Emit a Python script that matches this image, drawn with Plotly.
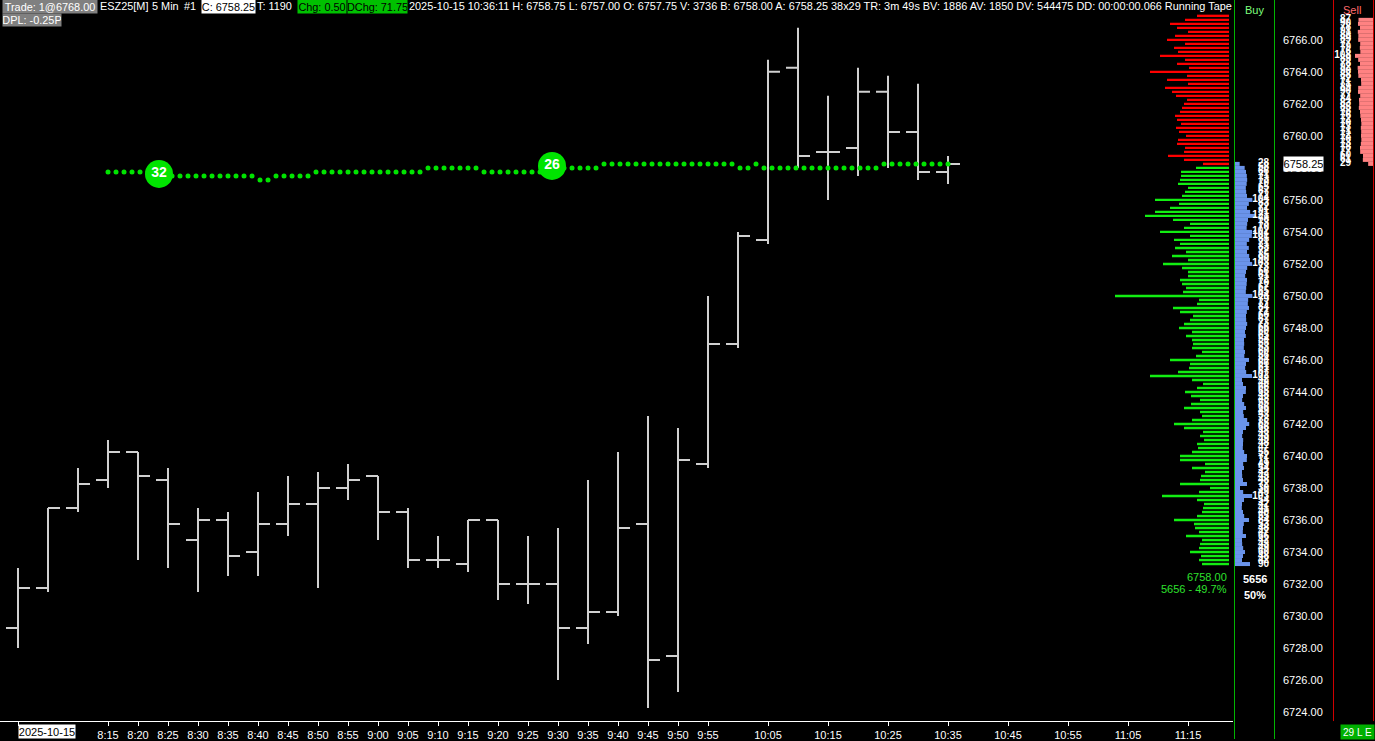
import pandas as pd
import plotly.graph_objects as go

W, H = 1375, 741
FONT = "Liberation Sans"
BAR_GREY = "#d0d0d0"
LIME = "#00e400"
TAPE_RED = "#ff0000"
TAPE_GREEN = "#12ee12"
BUY_BLUE = "#6a93ea"
SELL_PINK = "#ff8282"
BOX_GREEN = "#00c000"
BOX_GREY = "#808080"

DAY = "2025-10-15"
TICK = 0.25

# 5 min bars, 8:00 .. 10:35
bar_open = [6729.25, 6731.75, 6736.75, 6738.50, 6740.25, 6738.50, 6734.75, 6736.00,
            6734.00, 6735.75, 6737.00, 6738.00, 6738.75, 6736.50, 6733.50, 6733.25,
            6736.00, 6732.00, 6732.00, 6729.25, 6730.25, 6735.75, 6727.50, 6739.50,
            6747.00, 6753.50, 6764.25, 6759.00, 6759.25, 6762.75, 6760.25, 6757.75]
bar_high = [6733.00, 6736.75, 6739.25, 6741.00, 6740.25, 6739.25, 6736.75, 6736.50,
            6737.75, 6738.75, 6739.00, 6739.50, 6738.75, 6736.75, 6735.00, 6736.00,
            6736.00, 6735.00, 6735.50, 6738.50, 6740.25, 6742.50, 6741.75, 6750.00,
            6754.00, 6764.75, 6766.75, 6762.50, 6764.25, 6763.75, 6763.25, 6758.75]
bar_low = [6728.00, 6731.50, 6736.50, 6738.00, 6733.50, 6733.00, 6731.50, 6732.50,
           6732.50, 6735.00, 6731.75, 6737.25, 6734.75, 6733.00, 6733.00, 6732.75,
           6731.00, 6730.75, 6726.00, 6728.25, 6730.00, 6724.25, 6725.25, 6739.25,
           6746.75, 6753.25, 6758.00, 6756.00, 6757.50, 6758.00, 6757.25, 6757.00]
bar_close = [6731.75, 6736.75, 6738.25, 6740.25, 6738.75, 6735.75, 6736.00, 6733.75,
             6735.75, 6737.00, 6738.00, 6738.50, 6736.50, 6733.50, 6733.50, 6736.00,
             6732.00, 6732.00, 6729.25, 6730.25, 6735.50, 6727.25, 6739.75, 6747.00,
             6753.75, 6764.00, 6758.75, 6759.00, 6762.75, 6760.25, 6757.75, 6758.25]
bar_times = pd.date_range(f"{DAY} 08:00", periods=len(bar_open), freq="5min")

# green dotted study line, one dot every 80 s from 8:15
dot_levels = ([6757.75] * 7 + [6757.50] * 12 + [6757.25] * 2 + [6757.50] * 5 +
              [6757.75] * 14 + [6758.00] * 7 + [6757.75] * 9 + [6758.00] * 6 +
              [6758.25] * 17 + [6758.00] * 2 + [6758.25] * 1 + [6758.00] * 15 +
              [6758.25] * 9)
dot_times = pd.date_range(f"{DAY} 08:15", periods=len(dot_levels), freq="80s")

marker_times = [f"{DAY} 08:23:30", f"{DAY} 09:29:00"]
marker_prices = [6757.625, 6758.125]
marker_labels = ["32", "26"]

# running tape profile, from the top price level downwards
tape_sell = [32, 44, 59, 52, 41, 54, 62, 44, 55, 51, 69, 44, 52, 40, 79, 42, 62, 41, 64, 57,
             53, 42, 45, 47, 49, 54, 52, 48, 53, 50, 43, 51, 52, 44, 45, 61, 45, 26]
tape_sell_top = 6767.50
tape_buy = [33, 48, 48, 49, 51, 41, 44, 47, 74, 50, 59, 74, 84, 56, 39, 45, 69, 39, 55, 49,
            54, 43, 57, 41, 66, 47, 41, 41, 49, 47, 43, 46, 114, 30, 32, 56, 49, 36, 39, 45,
            50, 37, 43, 37, 36, 37, 27, 33, 59, 39, 40, 51, 79, 37, 26, 32, 44, 38, 29, 38,
            45, 29, 27, 37, 55, 45, 26, 29, 25, 32, 31, 37, 49, 49, 24, 37, 24, 28, 29, 49,
            19, 30, 67, 32, 25, 26, 27, 32, 55, 35, 34, 30, 43, 27, 29, 30, 39, 28, 30, 27]
tape_buy_top = 6758.00

# buy / sell columns
buy_count = [28, 58, 66, 71, 73, 70, 65, 67, 72, 104, 83, 72, 91, 121, 78, 73, 70, 102, 101, 85,
             71, 83, 72, 85, 90, 103, 73, 66, 61, 72, 70, 67, 65, 104, 79, 77, 84, 71, 66, 67,
             73, 66, 60, 65, 54, 55, 53, 60, 56, 84, 66, 61, 67, 102, 42, 48, 66, 65, 48, 43,
             55, 66, 49, 53, 73, 85, 66, 48, 43, 49, 48, 47, 55, 72, 71, 49, 54, 42, 43, 48,
             72, 30, 49, 103, 54, 42, 41, 48, 55, 84, 53, 48, 47, 66, 42, 43, 49, 60, 48, 42, 90]
buy_top = 6758.25
sell_count = [87, 90, 78, 91, 88, 89, 77, 79, 76, 108, 89, 78, 92, 90, 88, 72, 71, 89, 90,
              77, 84, 83, 85, 78, 76, 72, 70, 73, 71, 72, 70, 73, 78, 77, 60, 61, 29]
sell_top = 6767.25

x_tick_labels = ["8:15", "8:20", "8:25", "8:30", "8:35", "8:40", "8:45", "8:50", "8:55",
                 "9:00", "9:05", "9:10", "9:15", "9:20", "9:25", "9:30", "9:35", "9:40",
                 "9:45", "9:50", "9:55", "10:05", "10:15", "10:25", "10:35", "10:45",
                 "10:55", "11:05", "11:15"]
price_ticks = list(range(6724, 6767, 2))
last_price = 6758.25

header = [
    ("Trade: 1@6768.00", 2, BOX_GREY, "white", 94),
    ("ESZ25[M]", 99, None, "white", None),
    ("5 Min", 151, None, "white", None),
    ("#1", 183, None, "white", None),
    ("C: 6758.25", 201, "white", "black", 53),
    ("T: 1190", 256, None, "white", None),
    ("Chg: 0.50", 297, BOX_GREEN, "black", 48),
    ("DChg: 71.75", 347, BOX_GREEN, "black", 59),
    ("2025-10-15 10:36:11 H: 6758.75 L: 6757.00 O: 6757.75 V: 3736 B: 6758.00 "
     "A: 6758.25 38x29 TR: 3m 49s BV: 1886 AV: 1850 DV: 544475 DD: 00:00:00.066 "
     "Running Tape", 408, None, "white", None),
]

# pixel calibration of the price scale (y=0 top, y=723 bottom of plot)
Y_TOP, Y_BOT = 6768.49, 6723.44
PLOT_BOTTOM = 723


def levels(top, n):
    return [top - TICK * i for i in range(n)]


def px(x, y):
    return x / W, 1 - y / H


def note(text, x, y, color="white", size=11, bg=None, width=None, height=None,
         xanchor="left", bold=False):
    xp, yp = px(x, y)
    d = dict(text=f"<b>{text}</b>" if bold else text, x=xp, y=yp, xref="paper", yref="paper",
             xanchor=xanchor, yanchor="middle", showarrow=False, borderpad=0,
             font=dict(family=FONT, size=size, color=color))
    if bg:
        d["bgcolor"] = bg
    if width:
        d["width"] = width
        d["align"] = "center"
    if height:
        d["height"] = height
    return d


fig = go.Figure()

fig.add_trace(go.Bar(x=tape_sell, y=levels(tape_sell_top, len(tape_sell)), orientation="h",
                     width=0.15, marker=dict(color=TAPE_RED, line=dict(width=0)),
                     xaxis="x2", yaxis="y", hoverinfo="skip"))
fig.add_trace(go.Bar(x=tape_buy, y=levels(tape_buy_top, len(tape_buy)), orientation="h",
                     width=0.15, marker=dict(color=TAPE_GREEN, line=dict(width=0)),
                     xaxis="x2", yaxis="y", hoverinfo="skip"))

buy_px = levels(buy_top, len(buy_count))
fig.add_trace(go.Bar(x=buy_count, y=buy_px, orientation="h", width=TICK,
                     marker=dict(color=BUY_BLUE, line=dict(width=0)),
                     xaxis="x3", yaxis="y", hoverinfo="skip"))
fig.add_trace(go.Scatter(x=[204] * len(buy_count), y=buy_px, mode="text",
                         text=[str(v) for v in buy_count], textposition="middle left",
                         textfont=dict(family=FONT, size=10, color="white", weight="bold"),
                         xaxis="x3", yaxis="y", hoverinfo="skip"))

sell_px = levels(sell_top, len(sell_count))
fig.add_trace(go.Bar(x=sell_count, y=sell_px, orientation="h", width=TICK,
                     marker=dict(color=SELL_PINK, line=dict(width=0)),
                     xaxis="x4", yaxis="y", hoverinfo="skip"))
fig.add_trace(go.Scatter(x=[132] * len(sell_count), y=sell_px, mode="text",
                         text=[str(v) for v in sell_count], textposition="middle left",
                         textfont=dict(family=FONT, size=10, color="white", weight="bold"),
                         xaxis="x4", yaxis="y", hoverinfo="skip"))

fig.add_trace(go.Ohlc(x=bar_times, open=bar_open, high=bar_high, low=bar_low, close=bar_close,
                      increasing=dict(line=dict(color=BAR_GREY, width=2)),
                      decreasing=dict(line=dict(color=BAR_GREY, width=2)),
                      tickwidth=0.4, hoverinfo="skip"))

fig.add_trace(go.Scatter(x=dot_times, y=dot_levels, mode="markers",
                         marker=dict(size=5, color=LIME), hoverinfo="skip"))
fig.add_trace(go.Scatter(x=pd.to_datetime(marker_times), y=marker_prices, mode="markers+text",
                         text=marker_labels, textposition="middle center",
                         textfont=dict(family=FONT, size=14, color="white", weight="bold"),
                         marker=dict(size=28, color=LIME), hoverinfo="skip"))

# keeps the price scale drawn
fig.add_trace(go.Scatter(x=[bar_times[0]], y=[None], yaxis="y2", mode="markers",
                         hoverinfo="skip"))

tick_vals = [pd.Timestamp(f"{DAY} 08:00")] + [pd.Timestamp(f"{DAY} {t}") for t in x_tick_labels]
tick_text = [""] + x_tick_labels

y_dom = [1 - PLOT_BOTTOM / H, 1]
fig.update_layout(
    width=W, height=H,
    margin=dict(l=0, r=0, t=0, b=0, pad=0),
    paper_bgcolor="black", plot_bgcolor="rgba(0,0,0,0)",
    showlegend=False, hovermode=False, dragmode=False, barmode="overlay",
    font=dict(family=FONT, size=11, color="white"),
    xaxis=dict(domain=[0, 1233 / W], type="date",
               range=[f"{DAY} 07:57:00", f"{DAY} 11:22:30"],
               rangeslider=dict(visible=False),
               tickvals=tick_vals, ticktext=tick_text,
               ticks="outside", ticklen=4, tickcolor="white", tickwidth=1,
               tickfont=dict(family=FONT, size=11, color="white"),
               showline=True, linecolor="white", linewidth=1,
               showgrid=False, zeroline=False, anchor="y"),
    xaxis2=dict(domain=[0, 1229 / W], range=[1229, 0], visible=False, anchor="y"),
    xaxis3=dict(domain=[1235 / W, 1274 / W], range=[0, 234], visible=False, anchor="y"),
    xaxis4=dict(domain=[1334 / W, 1373 / W], range=[234, 0], visible=False, anchor="y"),
    yaxis=dict(domain=y_dom, range=[Y_BOT, Y_TOP], showgrid=False, zeroline=False,
               showticklabels=False, ticks="", showline=True, linecolor="white", linewidth=1),
    yaxis2=dict(overlaying="y", anchor="free", position=1282 / W, side="right",
                range=[Y_BOT, Y_TOP], tickvals=price_ticks,
                ticktext=[f"{p:.2f}" for p in price_ticks],
                tickfont=dict(family=FONT, size=11, color="white"),
                ticks="", showgrid=False, zeroline=False, showline=False),
)

shapes = []
for x, color, y1 in [(1234.5, "#00b400", H), (1274.5, "#00b400", H),
                     (1333.5, "#d00000", PLOT_BOTTOM), (1373.5, "#d00000", PLOT_BOTTOM)]:
    shapes.append(dict(type="line", xref="paper", yref="paper", x0=x / W, x1=x / W,
                       y0=1 - y1 / H, y1=1, line=dict(color=color, width=1)))
fig.update_layout(shapes=shapes)

notes = []
for text, x, bg, color, width in header:
    notes.append(note(text, x, 6.5, color=color, bg=bg, width=width, height=13 if bg else None,
                      size=10.9))
notes.append(note("DPL: -0.25P", 2, 20.5, bg=BOX_GREY, width=58, height=12, size=10.9))
notes.append(note("Buy", 1254, 10, color="#7dff7d", size=11, xanchor="center"))
notes.append(note("Sell", 1352, 10, color="#ff6a6a", size=11, xanchor="center"))
notes.append(note(f"{last_price:.2f}", 1303.5, 164, color="black", size=11, bg="white",
                  width=39, height=14, xanchor="center"))
notes.append(note("6758.00", 1228, 578.5, color="#2ee02e", size=11, xanchor="right"))
notes.append(note("5656 - 49.7%", 1228, 591, color="#2ee02e", size=11, xanchor="right"))
notes.append(note("5656", 1255, 581, size=11, xanchor="center", bold=True))
notes.append(note("50%", 1255, 597, size=11, xanchor="center", bold=True))
notes.append(note(DAY, 18, 733.5, color="black", bg="white", width=56, height=13))
notes.append(note("29 L E", 1340, 734, color="white", bg="#00b000", width=33, height=14,
                  size=10))
fig.update_layout(annotations=notes)

fig.write_html("out.html", config={"displayModeBar": False},
               post_script="document.body.style.margin='0';"
                           "document.body.style.background='#000';"
                           "document.body.style.overflow='hidden';")
